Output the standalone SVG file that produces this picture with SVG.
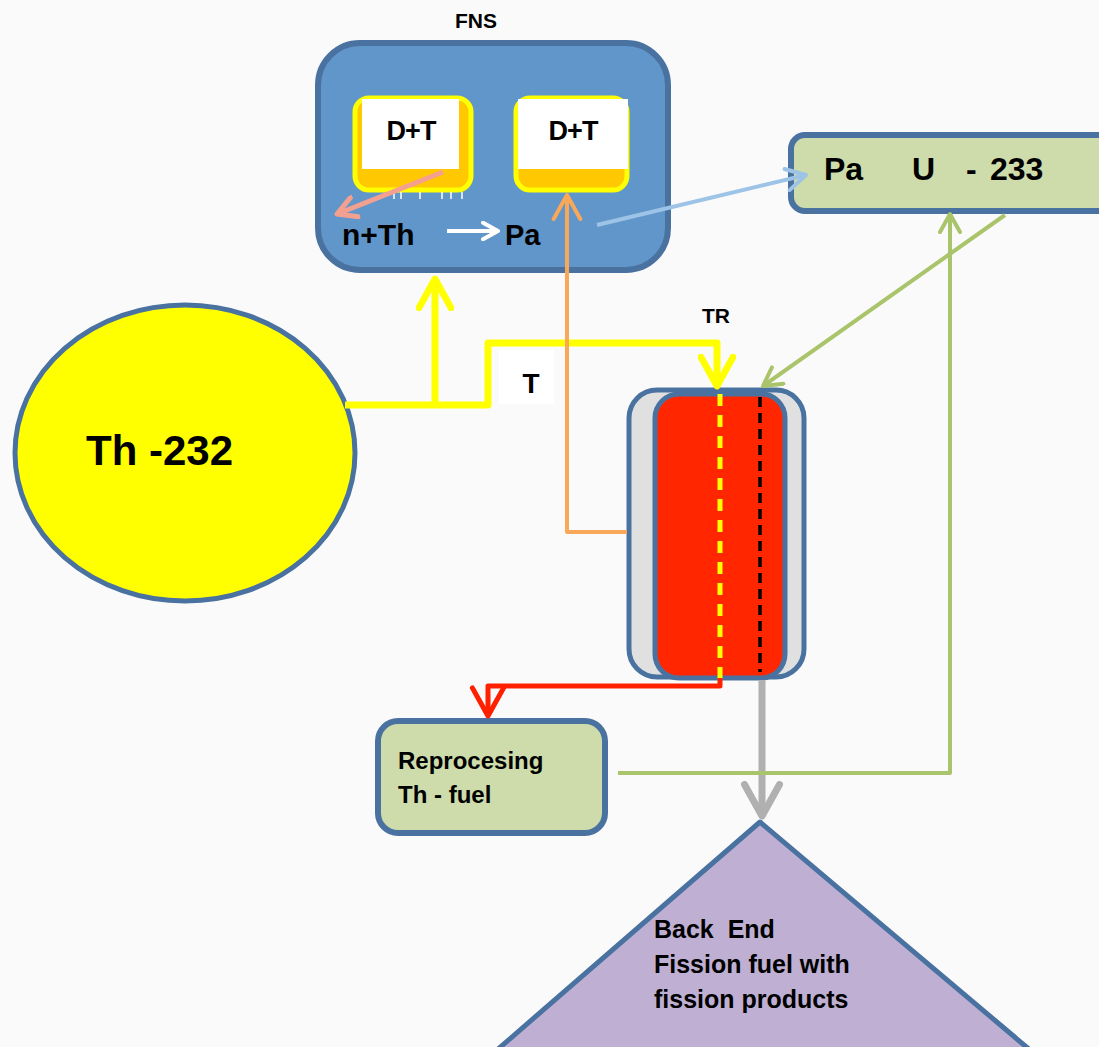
<svg xmlns="http://www.w3.org/2000/svg" width="1099" height="1047" viewBox="0 0 1099 1047">
<defs>
<style>
.t{font-family:"Liberation Sans",Arial,sans-serif;font-weight:bold;fill:#000}
</style>
<marker id="aY" viewBox="0 0 12 12" refX="10" refY="6" markerWidth="5.5" markerHeight="5.5" orient="auto" markerUnits="strokeWidth"><path d="M1,1 L10,6 L1,11" fill="none" stroke="#ffff00" stroke-width="2.1" stroke-linecap="round" stroke-linejoin="round"/></marker>
<marker id="aO" viewBox="0 0 12 12" refX="10" refY="6" markerWidth="8" markerHeight="8" orient="auto" markerUnits="strokeWidth"><path d="M1,1 L10,6 L1,11" fill="none" stroke="#f9a85a" stroke-width="1.5" stroke-linecap="round" stroke-linejoin="round"/></marker>
<marker id="aR" viewBox="0 0 12 12" refX="10" refY="6" markerWidth="7.5" markerHeight="7.5" orient="auto" markerUnits="strokeWidth"><path d="M1,1 L10,6 L1,11" fill="none" stroke="#ff2000" stroke-width="1.6" stroke-linecap="round" stroke-linejoin="round"/></marker>
<marker id="aG" viewBox="0 0 12 12" refX="10" refY="6" markerWidth="6" markerHeight="6" orient="auto" markerUnits="strokeWidth"><path d="M1,1 L10,6 L1,11" fill="none" stroke="#a9c46a" stroke-width="2" stroke-linecap="round" stroke-linejoin="round"/></marker>
<marker id="aB" viewBox="0 0 12 12" refX="10" refY="6" markerWidth="6.5" markerHeight="6.5" orient="auto" markerUnits="strokeWidth"><path d="M1,1 L10,6 L1,11" fill="none" stroke="#9dc3e6" stroke-width="1.8" stroke-linecap="round" stroke-linejoin="round"/></marker>
<marker id="aP" viewBox="0 0 12 12" refX="10" refY="6" markerWidth="5" markerHeight="5" orient="auto" markerUnits="strokeWidth"><path d="M1,1 L10,6 L1,11" fill="none" stroke="#f4a090" stroke-width="2.4" stroke-linecap="round" stroke-linejoin="round"/></marker>
<marker id="aW" viewBox="0 0 12 12" refX="10" refY="6" markerWidth="5" markerHeight="5" orient="auto" markerUnits="strokeWidth"><path d="M1,1 L10,6 L1,11" fill="none" stroke="#ffffff" stroke-width="2.4" stroke-linecap="round" stroke-linejoin="round"/></marker>
<marker id="aGr" viewBox="0 0 12 12" refX="10" refY="6" markerWidth="6" markerHeight="6" orient="auto" markerUnits="strokeWidth"><path d="M1,1 L10,6 L1,11" fill="none" stroke="#b0b0b0" stroke-width="2" stroke-linecap="round" stroke-linejoin="round"/></marker>
</defs>
<rect x="0" y="0" width="1099" height="1047" fill="#fafafa"/>

<g id="fns">
<text class="t" x="476" y="28" font-size="21" text-anchor="middle">FNS</text>
<rect x="318" y="43" width="350" height="227" rx="42" fill="#6096c9" stroke="#4a72a0" stroke-width="6"/>
<g id="dt1">
<rect x="355" y="98" width="116" height="92" rx="14" fill="#ffc800" stroke="#ffff00" stroke-width="5"/>
<rect x="362" y="99" width="97" height="70" fill="#ffffff"/>
<text class="t" x="411" y="140" font-size="27" text-anchor="middle" letter-spacing="-1">D+T</text>
<g stroke="#ffffff" stroke-width="1.5">
<line x1="394" y1="192" x2="394" y2="199"/><line x1="401" y1="192" x2="401" y2="199"/><line x1="420" y1="192" x2="420" y2="199"/><line x1="442" y1="192" x2="442" y2="199"/><line x1="451" y1="192" x2="451" y2="199"/><line x1="462" y1="192" x2="462" y2="199"/>
</g>
</g>
<g id="dt2">
<rect x="516" y="98" width="111" height="92" rx="14" fill="#ffc800" stroke="#ffff00" stroke-width="5"/>
<rect x="518" y="99" width="110" height="70" fill="#ffffff"/>
<text class="t" x="573" y="140" font-size="27" text-anchor="middle" letter-spacing="-1">D+T</text>
</g>
<text class="t" x="342" y="245" font-size="30">n+Th</text>
<text class="t" x="505" y="245" font-size="29">Pa</text>
</g>

<g id="pa-u233">
<rect x="791" y="135" width="330" height="76" rx="14" fill="#cddcaa" stroke="#4a72a0" stroke-width="6"/>
<text class="t" y="180" font-size="32"><tspan x="824">Pa</tspan><tspan x="912">U</tspan><tspan x="966">-</tspan><tspan x="990">233</tspan></text>
</g>

<g id="th232">
<ellipse cx="185" cy="453" rx="170" ry="148" fill="#ffff00" stroke="#4a72a0" stroke-width="5"/>
<text class="t" x="86" y="465" font-size="42">Th -232</text>
</g>

<g id="t-label">
<rect x="499" y="350" width="55" height="54" fill="#ffffff"/>
<text class="t" x="531" y="393" font-size="28" text-anchor="middle">T</text>
</g>

<g id="tr">
<text class="t" x="716" y="323" font-size="21" text-anchor="middle">TR</text>
<rect x="629" y="390" width="175" height="287" rx="28" fill="#e0e0e0" stroke="#4a72a0" stroke-width="5"/>
<rect x="655" y="394" width="130" height="284" rx="24" fill="#ff2600" stroke="#4a72a0" stroke-width="5"/>
<line x1="720" y1="394" x2="720" y2="680" stroke="#ffff00" stroke-width="5" stroke-dasharray="12,9"/>
<line x1="760" y1="397" x2="760" y2="672" stroke="#000" stroke-width="3.5" stroke-dasharray="10,6"/>
</g>

<g id="reprocessing">
<rect x="378" y="721" width="227" height="112" rx="20" fill="#cddcaa" stroke="#4a72a0" stroke-width="6"/>
<text class="t" x="398" y="769" font-size="24">Reprocesing</text>
<text class="t" x="398" y="803" font-size="24" xml:space="preserve">Th - fuel</text>
</g>

<g id="backend">
<polygon points="760,822 497,1050 1030,1050" fill="#bfb0d3" stroke="#4a72a0" stroke-width="5" stroke-linejoin="round"/>
<text class="t" x="654" y="938" font-size="25" xml:space="preserve">Back  End</text>
<text class="t" x="654" y="973" font-size="25">Fission fuel with</text>
<text class="t" x="654" y="1008" font-size="25">fission products</text>
</g>

<g id="connectors" fill="none">
<path d="M443,172 L337,214" stroke="#f4a090" stroke-width="5" marker-end="url(#aP)"/>
<path d="M447,231 L498,231" stroke="#ffffff" stroke-width="4" marker-end="url(#aW)"/>
<path d="M597,225 L806,175" stroke="#9dc3e6" stroke-width="4" marker-end="url(#aB)"/>
<path d="M345,405 L488,405 L488,343 L717,343 L717,386" stroke="#ffff00" stroke-width="7" stroke-linejoin="round" marker-end="url(#aY)"/>
<path d="M435,405 L435,279" stroke="#ffff00" stroke-width="7" marker-end="url(#aY)"/>
<path d="M627,532 L567,532 L567,195" stroke="#f9a85a" stroke-width="4" stroke-linejoin="round" marker-end="url(#aO)"/>
<path d="M720,678 L720,686 L488,686 L488,716" stroke="#ff2000" stroke-width="5" stroke-linejoin="round" marker-end="url(#aR)"/>
<path d="M762,680 L762,816" stroke="#b0b0b0" stroke-width="7" marker-end="url(#aGr)"/>
<path d="M1005,215 L763,386" stroke="#a9c46a" stroke-width="4" marker-end="url(#aG)"/>
<path d="M618,773 L950,773 L950,214" stroke="#a9c46a" stroke-width="4" stroke-linejoin="round" marker-end="url(#aG)"/>
</g>
</svg>
